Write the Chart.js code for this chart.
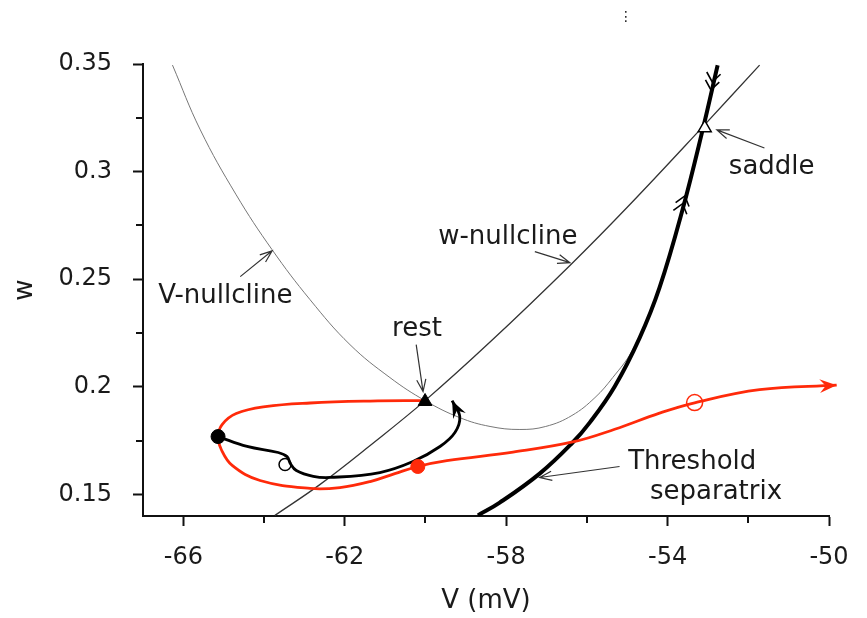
<!DOCTYPE html>
<html>
<head>
<meta charset="utf-8">
<title>Threshold separatrix</title>
<script src="https://cdn.jsdelivr.net/npm/chart.js@4.4.1/dist/chart.umd.min.js"></script>
<style>
  html, body { margin: 0; padding: 0; background: #fff; }
  #wrap { width: 867px; height: 618px; }
</style>
</head>
<body>
<div id="wrap"><canvas id="phaseChart" width="867" height="618"></canvas></div>
<script>
// Phase plane (V, w): nullclines, threshold separatrix and two trajectories

// V-nullcline (thin gray parabola, runs up into the saddle)
const vNullV = [-66.27, -65.58, -64.69, -63.80, -62.86, -61.87, -60.88, -60.01, -59.15, -58.40, -57.66, -57.02, -56.37, -55.80, -55.36, -54.89, -54.42, -53.96, -53.50, -53.12];
const vNullW = [0.3495, 0.3194, 0.2892, 0.2637, 0.2405, 0.2196, 0.2043, 0.1936, 0.1857, 0.1816, 0.1802, 0.1816, 0.1867, 0.1950, 0.2043, 0.2164, 0.2358, 0.2614, 0.2915, 0.3203];

// w-nullcline
const wNullV = [-63.73, -62.61, -61.37, -60.01, -58.40, -56.42, -54.94, -53.13, -51.72];
const wNullW = [0.1403, 0.1547, 0.1728, 0.1936, 0.2208, 0.2564, 0.2846, 0.3208, 0.3495];

// threshold separatrix (stable manifold of the saddle)
const sepV = [-58.70, -58.16, -57.17, -56.37, -55.93, -55.31, -54.69, -54.20, -53.63, -53.13, -52.76];
const sepW = [0.1403, 0.1462, 0.1597, 0.1738, 0.1834, 0.2002, 0.2229, 0.2461, 0.2823, 0.3195, 0.3494];

// red trajectory: rest -> loop -> escapes past the separatrix
const redV = [-60.01, -61.37, -62.86, -63.97, -64.69, -65.04, -65.14, -65.06, -64.79, -64.10, -62.86, -62.12, -61.37, -60.76, -60.19, -59.47, -57.83, -56.35, -55.31, -54.20, -53.33, -51.72, -49.81];
const redW = [0.1936, 0.1934, 0.1925, 0.1908, 0.1876, 0.1825, 0.1769, 0.1709, 0.1635, 0.1565, 0.1528, 0.1532, 0.1560, 0.1597, 0.1630, 0.1657, 0.1697, 0.1744, 0.1803, 0.1878, 0.1926, 0.1987, 0.2008];

// black trajectory: returns to rest
const blackV = [-65.14, -64.42, -63.65, -63.43, -63.35, -63.20, -62.78, -62.36, -61.13, -60.31, -59.64, -59.27, -59.15, -59.34];
const blackW = [0.1769, 0.1723, 0.1695, 0.1676, 0.1644, 0.1611, 0.1584, 0.1579, 0.1602, 0.1653, 0.1723, 0.1788, 0.1862, 0.1936];

// special points [V, w]
const restVW = [-60.01, 0.1932];
const saddleVW = [-53.08, 0.3203];
const blackStartVW = [-65.14, 0.1769];
const blackOpenVW = [-63.48, 0.1639];
const redStartVW = [-60.19, 0.1630];
const redOpenVW = [-53.33, 0.1927];

// axis ticks
const xMajorTicks = [-66, -62, -58, -54, -50];
const xMinorTicks = [-64, -60, -56, -52];
const yMajorTicks = [0.15, 0.2, 0.25, 0.3, 0.35];
const yMinorTicks = [0.175, 0.225, 0.275, 0.325];

// text labels, placed in data coordinates
const labelText = ['V-nullcline', 'w-nullcline', 'rest', 'saddle', 'Threshold', 'separatrix'];
const labelV = [-64.96, -57.96, -60.21, -51.42, -53.39, -52.80];
const labelW = [0.2419, 0.2697, 0.2266, 0.3022, 0.1648, 0.1509];

// pointer arrows from label to curve
const pointerFromV = [-64.59, -57.29, -60.23, -51.60, -55.19];
const pointerFromW = [0.2512, 0.2628, 0.2196, 0.3110, 0.1630];
const pointerToV = [-63.80, -56.42, -60.06, -52.78, -57.17];
const pointerToW = [0.2632, 0.2577, 0.1978, 0.3194, 0.1579];

// double chevrons on the separatrix (both point toward the saddle)
const chevronV = [-53.60, -52.91];
const chevronW = [0.2869, 0.3398];

const FONT = '"DejaVu Sans", Arial, sans-serif';
const RED = '#ff2a0a';
const AXIS = '#111';
const INK = '#1a1a1a';

function toPoints(xs, ys) {
  return xs.map((x, i) => ({ x: x, y: ys[i] }));
}

function curve(xs, ys, color, width, extra) {
  return Object.assign({
    data: toPoints(xs, ys),
    showLine: true,
    borderColor: color,
    borderWidth: width,
    pointRadius: 0,
    tension: 0.4,
    fill: false
  }, extra || {});
}

function marker(vw, style, radius, fillColor, strokeColor, strokeWidth) {
  return {
    data: [{ x: vw[0], y: vw[1] }],
    showLine: false,
    pointStyle: style,
    pointRadius: radius,
    pointBackgroundColor: fillColor,
    pointBorderColor: strokeColor,
    pointBorderWidth: strokeWidth
  };
}

/**
 * Thin pointer line with an open V head
 */
function drawPointer(ctx, x0, y0, x1, y1) {
  const a = Math.atan2(y1 - y0, x1 - x0);
  const len = 13, spread = 0.36;
  ctx.beginPath();
  ctx.moveTo(x0, y0);
  ctx.lineTo(x1, y1);
  ctx.moveTo(x1 - len * Math.cos(a - spread), y1 - len * Math.sin(a - spread));
  ctx.lineTo(x1, y1);
  ctx.lineTo(x1 - len * Math.cos(a + spread), y1 - len * Math.sin(a + spread));
  ctx.stroke();
}

/**
 * Filled barbed arrowhead at the end of a trajectory
 */
function drawHead(ctx, x, y, angle, color) {
  ctx.save();
  ctx.translate(x, y);
  ctx.rotate(angle);
  ctx.fillStyle = color;
  ctx.beginPath();
  ctx.moveTo(0, 0);
  ctx.lineTo(-17, -7);
  ctx.lineTo(-11, 0);
  ctx.lineTo(-17, 7);
  ctx.closePath();
  ctx.fill();
  ctx.restore();
}

function drawChevron(ctx, x, y, angle) {
  ctx.save();
  ctx.translate(x, y);
  ctx.rotate(angle);
  ctx.beginPath();
  [4, -4].forEach(off => {
    ctx.moveTo(off - 9, -7);
    ctx.lineTo(off, 0);
    ctx.lineTo(off - 9, 7);
  });
  ctx.stroke();
  ctx.restore();
}

function endAngle(sx, sy, xs, ys) {
  const n = xs.length;
  const x0 = sx.getPixelForValue(xs[n - 2]), y0 = sy.getPixelForValue(ys[n - 2]);
  const x1 = sx.getPixelForValue(xs[n - 1]), y1 = sy.getPixelForValue(ys[n - 1]);
  return Math.atan2(y1 - y0, x1 - x0);
}

// short minor tick marks (Chart.js only has one tick length)
const minorTickPlugin = {
  id: 'minorTicks',
  afterDraw(chart) {
    const { ctx, chartArea } = chart;
    const sx = chart.scales.x, sy = chart.scales.y;
    ctx.save();
    ctx.strokeStyle = AXIS;
    ctx.lineWidth = 2;
    ctx.beginPath();
    xMinorTicks.forEach(v => {
      const p = Math.round(sx.getPixelForValue(v));
      ctx.moveTo(p, chartArea.bottom);
      ctx.lineTo(p, chartArea.bottom + 7);
    });
    yMinorTicks.forEach(v => {
      const p = Math.round(sy.getPixelForValue(v));
      ctx.moveTo(chartArea.left - 7, p);
      ctx.lineTo(chartArea.left, p);
    });
    ctx.stroke();
    ctx.restore();
  }
};

const annotationPlugin = {
  id: 'phaseAnnotations',
  afterDatasetsDraw(chart) {
    const { ctx } = chart;
    const sx = chart.scales.x, sy = chart.scales.y;
    ctx.save();

    // trajectory arrowheads
    drawHead(ctx, sx.getPixelForValue(redV[redV.length - 1]), sy.getPixelForValue(redW[redW.length - 1]),
      endAngle(sx, sy, redV, redW), RED);
    drawHead(ctx, sx.getPixelForValue(blackV[blackV.length - 1]), sy.getPixelForValue(blackW[blackW.length - 1]),
      endAngle(sx, sy, blackV, blackW), '#000');

    // chevrons on the separatrix
    const saddleX = sx.getPixelForValue(saddleVW[0]);
    const saddleY = sy.getPixelForValue(saddleVW[1]);
    ctx.strokeStyle = '#000';
    ctx.lineWidth = 1.6;
    chevronV.forEach((v, i) => {
      const cx = sx.getPixelForValue(v), cy = sy.getPixelForValue(chevronW[i]);
      drawChevron(ctx, cx, cy, Math.atan2(saddleY - cy, saddleX - cx));
    });

    // pointers
    ctx.strokeStyle = '#333';
    ctx.lineWidth = 1.2;
    pointerFromV.forEach((v, i) => {
      drawPointer(ctx,
        sx.getPixelForValue(v), sy.getPixelForValue(pointerFromW[i]),
        sx.getPixelForValue(pointerToV[i]), sy.getPixelForValue(pointerToW[i]));
    });

    // labels
    ctx.fillStyle = INK;
    ctx.font = '26px ' + FONT;
    ctx.textAlign = 'center';
    ctx.textBaseline = 'middle';
    labelText.forEach((t, i) => {
      ctx.fillText(t, sx.getPixelForValue(labelV[i]), sy.getPixelForValue(labelW[i]));
    });

    // small menu glyph above the plot
    ctx.font = '14px ' + FONT;
    ctx.fillText('\u22EE', 626, 17);
    ctx.restore();
  }
};

function createPhasePlane() {
  const ctx = document.getElementById('phaseChart');
  if (!ctx) return;

  const xTicks = xMajorTicks.concat(xMinorTicks).sort((a, b) => a - b);
  const yTicks = yMajorTicks.concat(yMinorTicks).sort((a, b) => a - b);
  // major ticks drawn by Chart.js, minor ones by the plugin
  const xTickColor = c => (c.tick && xMajorTicks.includes(c.tick.value)) ? AXIS : 'rgba(0,0,0,0)';
  const yTickColor = c => (c.tick && yMajorTicks.includes(c.tick.value)) ? AXIS : 'rgba(0,0,0,0)';

  new Chart(ctx, {
    type: 'scatter',
    data: {
      datasets: [
        marker(restVW, 'triangle', 8, '#000', '#000', 1),
        marker(saddleVW, 'triangle', 7.5, '#fff', '#000', 1.5),
        marker(blackStartVW, 'circle', 7, '#000', '#000', 1),
        marker(blackOpenVW, 'circle', 6, 'rgba(0,0,0,0)', '#000', 1.5),
        marker(redStartVW, 'circle', 7, RED, RED, 1),
        marker(redOpenVW, 'circle', 8, 'rgba(0,0,0,0)', RED, 1.5),
        curve(blackV, blackW, '#000', 2.8),
        curve(redV, redW, RED, 2.8, { clip: false }),
        curve(sepV, sepW, '#000', 4),
        curve(wNullV, wNullW, '#333', 1.3),
        curve(vNullV, vNullW, '#777', 1)
      ]
    },
    options: {
      responsive: false,
      animation: false,
      events: [],
      layout: { padding: { top: 64, right: 38, left: 0, bottom: 0 } },
      scales: {
        x: {
          type: 'linear',
          min: -67,
          max: -50,
          afterBuildTicks: axis => { axis.ticks = xTicks.map(v => ({ value: v })); },
          afterFit: scale => { scale.height = 102; scale.paddingLeft = 0; scale.paddingRight = 0; },
          ticks: {
            autoSkip: false,
            maxRotation: 0,
            padding: 17,
            color: INK,
            font: { family: FONT, size: 24 },
            callback: v => xMajorTicks.includes(v) ? String(v) : ''
          },
          grid: { drawOnChartArea: false, tickLength: 10, tickWidth: 2, tickColor: xTickColor },
          border: { color: AXIS, width: 2 },
          title: {
            display: true,
            text: 'V (mV)',
            color: INK,
            font: { family: FONT, size: 26 },
            padding: { top: 0, bottom: 1 }
          }
        },
        y: {
          type: 'linear',
          min: 0.14,
          max: 0.35,
          afterBuildTicks: axis => { axis.ticks = yTicks.map(v => ({ value: v })); },
          afterFit: scale => { scale.width = 143; scale.paddingTop = 0; scale.paddingBottom = 0; },
          ticks: {
            autoSkip: false,
            padding: 21,
            color: INK,
            font: { family: FONT, size: 24 },
            callback: v => yMajorTicks.includes(v) ? String(v) : ''
          },
          grid: { drawOnChartArea: false, tickLength: 10, tickWidth: 2, tickColor: yTickColor },
          border: { color: AXIS, width: 2 },
          title: {
            display: true,
            text: 'w',
            color: INK,
            font: { family: FONT, size: 26 },
            padding: { top: 10, bottom: 0 }
          }
        }
      },
      plugins: {
        legend: { display: false },
        tooltip: { enabled: false }
      }
    },
    plugins: [minorTickPlugin, annotationPlugin]
  });
}

createPhasePlane();
</script>
</body>
</html>
